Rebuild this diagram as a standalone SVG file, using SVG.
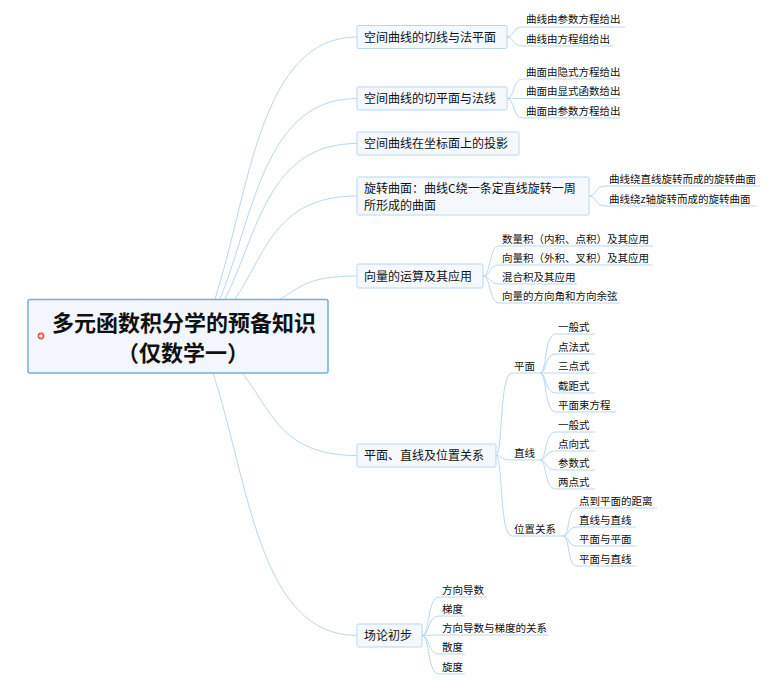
<svg xmlns="http://www.w3.org/2000/svg" width="778" height="683" viewBox="0 0 778 683">
<style>
text{font-family:"Noto Sans CJK SC","Noto Sans",sans-serif;fill:#111;}
.root{fill:#f3f7fd;stroke:#74aee0;stroke-width:1.5;}
.rt{font-size:22px;font-weight:bold;text-anchor:middle;}
.n1{fill:#f5f9fe;stroke:#b8d6ee;stroke-width:1;}
.t1{font-size:12px;}
.t2{font-size:10.5px;}
.c{fill:none;stroke:#b9d8ef;stroke-width:1;}
</style>
<rect width="778" height="683" fill="#ffffff"/>
<g id="connectors">
<path class="c" d="M215 299 C250 189 260 37 357 37"/>
<path class="c" d="M220 299 C254 215 264 98.5 357 98.5"/>
<path class="c" d="M225 299 C258 234 267 143.5 357 143.5"/>
<path class="c" d="M235 299 C265 256 274 196 357 196"/>
<path class="c" d="M280 299 C299 289 305 276 357 276"/>
<path class="c" d="M242 373 C271 408 279 455.5 357 455.5"/>
<path class="c" d="M213 373 C249 483 259 635.5 357 635.5"/>
<path class="c" d="M507 37 C514 37 512 27 523 27 L625 27"/>
<path class="c" d="M507 37 C514 37 512 46 523 46 L613 46"/>
<path class="c" d="M507 98.5 C515 98.5 512 79 523 79 L620 79"/>
<path class="c" d="M507 98.5 C515 98.5 512 98.5 523 98.5 L620 98.5"/>
<path class="c" d="M507 98.5 C515 98.5 512 118 523 118 L620 118"/>
<path class="c" d="M589 196 C597 196 594 186 606 186 L760 186"/>
<path class="c" d="M589 196 C597 196 594 206 606 206 L756 206"/>
<path class="c" d="M483 276 C491 276 489 246 499 246 L653 246"/>
<path class="c" d="M483 276 C491 276 489 265 499 265 L653 265"/>
<path class="c" d="M483 276 C491 276 489 284 499 284 L577 284"/>
<path class="c" d="M483 276 C491 276 489 303 499 303 L620 303"/>
<path class="c" d="M496 455.5 C503 455.5 499 373 512 373 L540 373"/>
<path class="c" d="M496 455.5 C503 455.5 499 460 512 460 L540 460"/>
<path class="c" d="M496 455.5 C503 455.5 499 536 512 536 L563 536"/>
<path class="c" d="M540 373 C547 373 544 334 556 334 L595 334"/>
<path class="c" d="M540 373 C547 373 544 354 556 354 L595 354"/>
<path class="c" d="M540 373 C547 373 544 373 556 373 L595 373"/>
<path class="c" d="M540 373 C547 373 544 393 556 393 L595 393"/>
<path class="c" d="M540 373 C547 373 544 412 556 412 L616 412"/>
<path class="c" d="M540 460 C547 460 544 432 556 432 L595 432"/>
<path class="c" d="M540 460 C547 460 544 451 556 451 L595 451"/>
<path class="c" d="M540 460 C547 460 544 470 556 470 L595 470"/>
<path class="c" d="M540 460 C547 460 544 489 556 489 L595 489"/>
<path class="c" d="M563 536 C570 536 567 508 577 508 L657 508"/>
<path class="c" d="M563 536 C570 536 567 527 577 527 L636 527"/>
<path class="c" d="M563 536 C570 536 567 546 577 546 L636 546"/>
<path class="c" d="M563 536 C570 536 567 566 577 566 L636 566"/>
<path class="c" d="M422 635.5 C430 635.5 427 597 439 597 L487 597"/>
<path class="c" d="M422 635.5 C430 635.5 427 616 439 616 L465 616"/>
<path class="c" d="M422 635.5 C430 635.5 427 635 439 635 L549 635"/>
<path class="c" d="M422 635.5 C430 635.5 427 654 439 654 L465 654"/>
<path class="c" d="M422 635.5 C430 635.5 427 674 439 674 L465 674"/>
</g>
<g id="root">
<rect class="root" x="28" y="299.5" width="300" height="73.5" rx="2"/>
<circle cx="41" cy="336" r="2.6" fill="#fff3f0" stroke="#e8553a" stroke-width="1.6"/>
<text class="rt" x="184" y="331">多元函数积分学的预备知识</text>
<text class="rt" x="183" y="361">（仅数学一）</text>
</g>
<g id="n1">
<rect class="n1" x="357" y="25.5" width="150" height="23" rx="1.5"/>
<text class="t1" x="364" y="41.5">空间曲线的切线与法平面</text>
</g>
<g id="n1a"><text class="t2" x="526" y="23">曲线由参数方程给出</text></g>
<g id="n1b"><text class="t2" x="526" y="42.5">曲线由方程组给出</text></g>
<g id="n2">
<rect class="n1" x="357" y="87" width="150" height="23" rx="1.5"/>
<text class="t1" x="364" y="103">空间曲线的切平面与法线</text>
</g>
<g id="n2a"><text class="t2" x="526" y="75.5">曲面由隐式方程给出</text></g>
<g id="n2b"><text class="t2" x="526" y="95">曲面由显式函数给出</text></g>
<g id="n2c"><text class="t2" x="526" y="114.5">曲面由参数方程给出</text></g>
<g id="n3">
<rect class="n1" x="357" y="132" width="162" height="23" rx="1.5"/>
<text class="t1" x="364" y="148">空间曲线在坐标面上的投影</text>
</g>
<g id="n4">
<rect class="n1" x="357" y="177" width="232" height="38" rx="1.5"/>
<text class="t1" x="364" y="192.5">旋转曲面：曲线C绕一条定直线旋转一周</text>
<text class="t1" x="364" y="209.5">所形成的曲面</text>
</g>
<g id="n4a"><text class="t2" x="609" y="182.5">曲线绕直线旋转而成的旋转曲面</text></g>
<g id="n4b"><text class="t2" x="609" y="202.5">曲线绕z轴旋转而成的旋转曲面</text></g>
<g id="n5">
<rect class="n1" x="357" y="264" width="126" height="24" rx="1.5"/>
<text class="t1" x="364" y="280.5">向量的运算及其应用</text>
</g>
<g id="n5a"><text class="t2" x="502" y="242.5">数量积（内积、点积）及其应用</text></g>
<g id="n5b"><text class="t2" x="502" y="261.5">向量积（外积、叉积）及其应用</text></g>
<g id="n5c"><text class="t2" x="502" y="280.5">混合积及其应用</text></g>
<g id="n5d"><text class="t2" x="502" y="299.5">向量的方向角和方向余弦</text></g>
<g id="n6">
<rect class="n1" x="357" y="444" width="139" height="23" rx="1.5"/>
<text class="t1" x="364" y="460">平面、直线及位置关系</text>
</g>
<g id="n6p"><text class="t2" x="514" y="369.5">平面</text></g>
<g id="n6p1"><text class="t2" x="558" y="330.5">一般式</text></g>
<g id="n6p2"><text class="t2" x="558" y="350.5">点法式</text></g>
<g id="n6p3"><text class="t2" x="558" y="369.5">三点式</text></g>
<g id="n6p4"><text class="t2" x="558" y="389.5">截距式</text></g>
<g id="n6p5"><text class="t2" x="558" y="408.5">平面束方程</text></g>
<g id="n6l"><text class="t2" x="514" y="456.5">直线</text></g>
<g id="n6l1"><text class="t2" x="558" y="428.5">一般式</text></g>
<g id="n6l2"><text class="t2" x="558" y="447.5">点向式</text></g>
<g id="n6l3"><text class="t2" x="558" y="466.5">参数式</text></g>
<g id="n6l4"><text class="t2" x="558" y="485.5">两点式</text></g>
<g id="n6r"><text class="t2" x="514" y="532.5">位置关系</text></g>
<g id="n6r1"><text class="t2" x="579" y="504.5">点到平面的距离</text></g>
<g id="n6r2"><text class="t2" x="579" y="523.5">直线与直线</text></g>
<g id="n6r3"><text class="t2" x="579" y="542.5">平面与平面</text></g>
<g id="n6r4"><text class="t2" x="579" y="562.5">平面与直线</text></g>
<g id="n7">
<rect class="n1" x="357" y="624" width="65" height="23" rx="1.5"/>
<text class="t1" x="364" y="640">场论初步</text>
</g>
<g id="n7a"><text class="t2" x="442" y="593.5">方向导数</text></g>
<g id="n7b"><text class="t2" x="442" y="612.5">梯度</text></g>
<g id="n7c"><text class="t2" x="442" y="631.5">方向导数与梯度的关系</text></g>
<g id="n7d"><text class="t2" x="442" y="650.5">散度</text></g>
<g id="n7e"><text class="t2" x="442" y="670.5">旋度</text></g>
</svg>
